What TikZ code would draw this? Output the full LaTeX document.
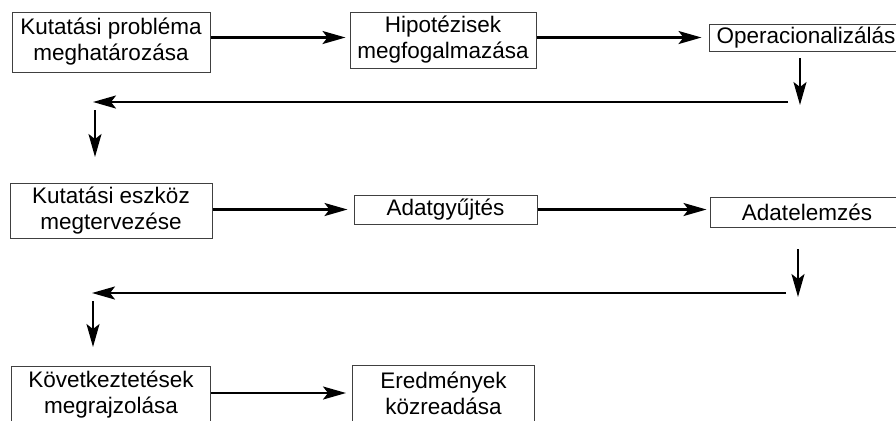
\documentclass[tikz,border=0pt]{standalone}
\usepackage{fontspec}
\setmainfont{Liberation Sans}
\usetikzlibrary{positioning, arrows.meta}

\begin{document}
\begin{tikzpicture}[x=0.5pt, y=-0.5pt,
                >={Stealth[inset=2.5pt,length=11.5pt,width=6.5pt]},
                stepbox/.style={draw=black!75, line width=0.5pt, inner sep=0pt, align=center,
                    font=\fontsize{11.25}{13}\selectfont},
                flow/.style={->, line width=1.1pt},
                drop/.style={->, line width=0.8pt}]

                \useasboundingbox (0,0) rectangle (896,420);

                % first row
                \node[stepbox, minimum width=99pt, minimum height=30pt] (prob) at (111,42) {Kutatási probléma\\meghatározása};
                \node[stepbox, minimum width=93pt, minimum height=28pt] (hip) [right=69.5pt of prob, yshift=1pt] {Hipotézisek\\megfogalmazása};
                \node[stepbox, minimum width=97pt, minimum height=13.5pt] (op) [right=86pt of hip, yshift=1.25pt] {Operacionalizálás};

                % second row
                \node[stepbox, minimum width=101pt, minimum height=27.5pt] (tool) [below=55pt of prob] {Kutatási eszköz\\megtervezése};
                \node[stepbox, minimum width=91.5pt, minimum height=14.5pt] (data) [right=70.5pt of tool, yshift=0.5pt] {Adatgyűjtés};
                \node[stepbox, minimum width=97pt, minimum height=15pt] (elem) [right=86pt of data, yshift=-1.25pt] {Adatelemzés};

                % third row
                \node[stepbox, minimum width=99.5pt, minimum height=29pt] (concl) [below=63.5pt of tool] {Következtetések\\megrajzolása};
                \node[stepbox, minimum width=91pt, minimum height=28pt] (res) [right=70.5pt of concl, yshift=1pt] {Eredmények\\közreadása};

                % turning points
                \coordinate (a1) at (800,58);
                \coordinate (a2) at (800,105);
                \coordinate (a3) at (788,102);
                \coordinate (a4) at (93,102);
                \coordinate (a5) at (95,110);
                \coordinate (a6) at (95,157);
                \coordinate (b1) at (798,249);
                \coordinate (b2) at (798,297);
                \coordinate (b3) at (786,293);
                \coordinate (b4) at (92,293);
                \coordinate (b5) at (93,301);
                \coordinate (b6) at (93,347);

                \draw[flow, shorten >=2pt] (prob.east |- op) -- (hip.west |- op);
                \draw[flow, shorten >=3.5pt] (hip.east |- op) -- (op);
                \draw[drop] (a1) -- (a2);
                \draw[flow] (a3) -- (a4);
                \draw[drop] (a5) -- (a6);

                \draw[flow, shorten >=3pt] (tool.east |- data) -- (data);
                \draw[flow, shorten >=1.5pt] (data) -- (elem.west |- data);
                \draw[drop] (b1) -- (b2);
                \draw[flow] (b3) -- (b4);
                \draw[drop] (b5) -- (b6);

                \draw[flow, shorten >=3pt] (concl.east |- res) -- (res);

            \end{tikzpicture}
\end{document}
